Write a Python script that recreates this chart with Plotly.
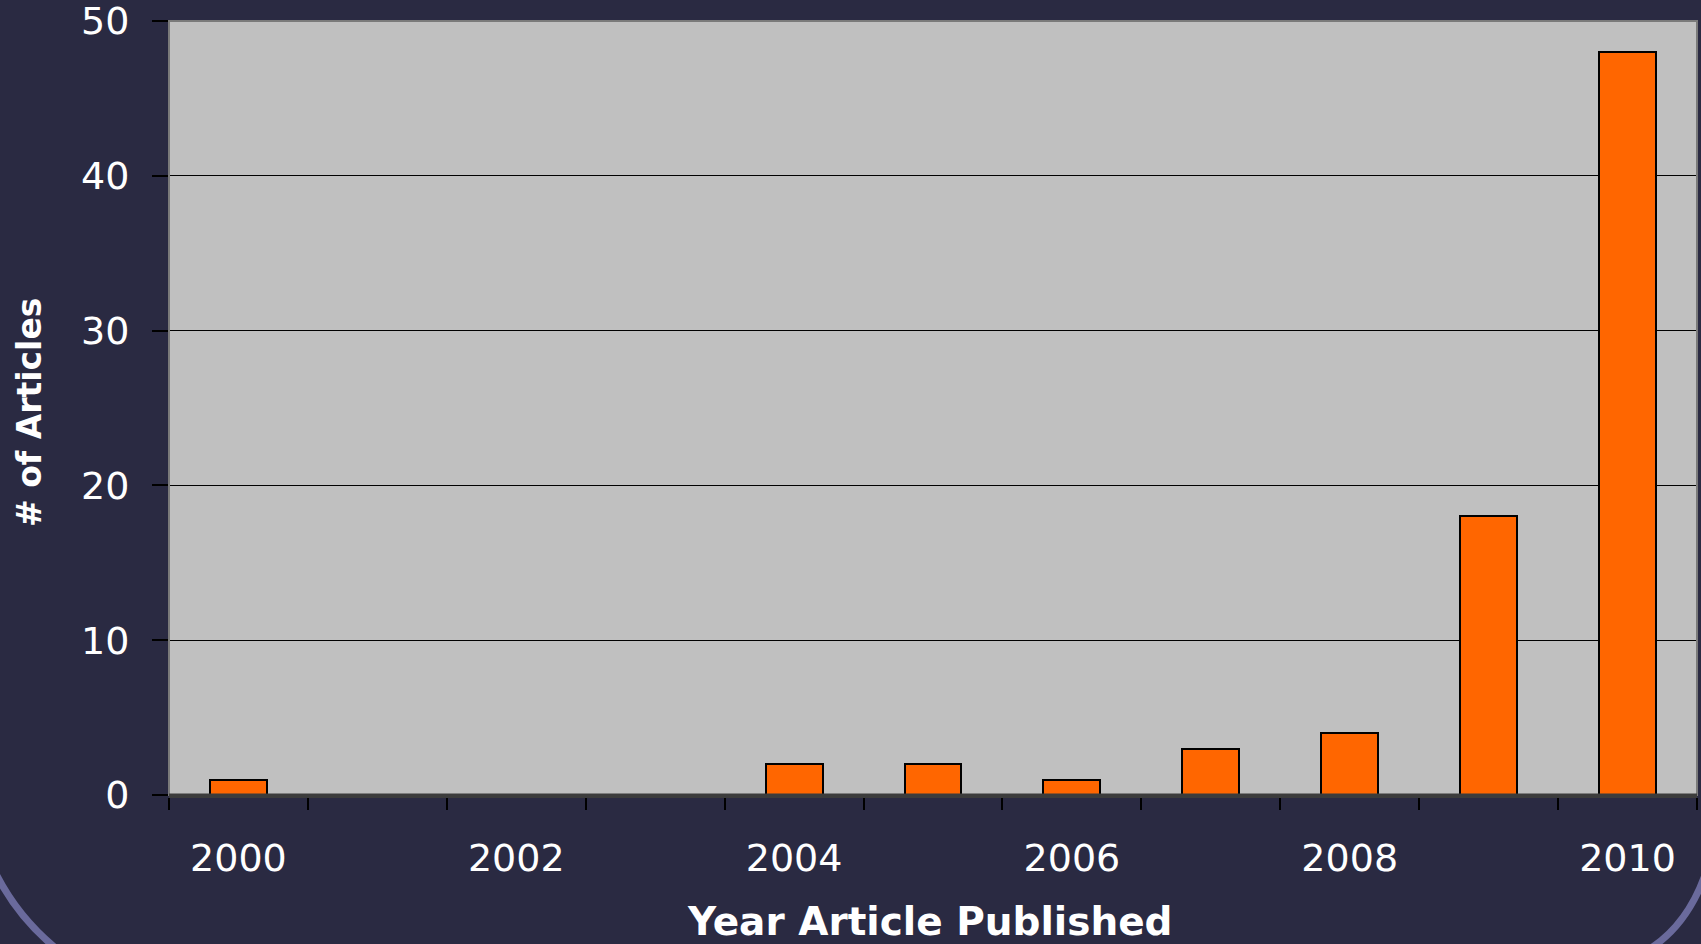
import plotly.graph_objects as go

years = [2000, 2001, 2002, 2003, 2004, 2005, 2006, 2007, 2008, 2009, 2010]
articles = [1, 0, 0, 0, 2, 2, 1, 3, 4, 18, 48]
label_years = [2000, 2002, 2004, 2006, 2008, 2010]
y_ticks = [0, 10, 20, 30, 40, 50]

W, H = 1701, 944
L, R, T, B = 169, 4, 21, 149
BG = "#2A2A42"
FONT = "DejaVu Sans, Liberation Sans, Arial, sans-serif"

pw = W - L - R
ph = H - T - B


def px(x):
    return (x - L) / pw


def py(y):
    return (H - B - y) / ph


fig = go.Figure()
fig.add_trace(go.Bar(
    x=years, y=articles, width=0.41,
    marker=dict(color="#FF6600", line=dict(color="black", width=2)),
))

arc_left = f"M {px(-5)},{py(872)} Q {px(18)},{py(918)} {px(58)},{py(950)}"
arc_right = f"M {px(1706)},{py(872)} Q {px(1688)},{py(925)} {px(1648)},{py(950)}"

fig.update_layout(
    width=W, height=H,
    margin=dict(l=L, r=R, t=T, b=B, autoexpand=False),
    paper_bgcolor=BG, plot_bgcolor="#C0C0C0",
    showlegend=False,
    bargap=0,
    font=dict(family=FONT, color="white", size=38),
    xaxis=dict(
        range=[1999.5, 2010.5], automargin=False,
        tickvals=label_years, ticktext=[str(v) for v in label_years],
        ticks="", showgrid=False, zeroline=False,
        showline=True, linecolor="#3C3C3C", linewidth=3,
        tickfont=dict(size=38, color="white", family=FONT),
        ticklabelstandoff=27,
        minor=dict(ticks="outside", tick0=1999.5, dtick=1, ticklen=12,
                   tickcolor="black", tickwidth=2, showgrid=False),
    ),
    yaxis=dict(
        range=[0, 50], tickvals=y_ticks, automargin=False,
        ticks="outside", ticklen=16, tickcolor="black", tickwidth=2,
        showgrid=True, gridcolor="black", gridwidth=1,
        zeroline=False, showline=False,
        tickfont=dict(size=38, color="white", family=FONT),
        ticklabelstandoff=15,
        ticklabeloverflow="allow",
    ),
    shapes=[
        dict(type="rect", xref="paper", yref="paper", x0=0, x1=1, y0=0, y1=1,
             line=dict(color="#7A7A7A", width=2), layer="above"),
        dict(type="line", xref="paper", yref="paper", x0=0, x1=1, y0=0, y1=0,
             line=dict(color="#3C3C3C", width=3), layer="above"),
        dict(type="path", xref="paper", yref="paper", path=arc_left,
             line=dict(color="#6A6A9C", width=7)),
        dict(type="path", xref="paper", yref="paper", path=arc_right,
             line=dict(color="#6A6A9C", width=7)),
    ],
    annotations=[
        dict(text="<b>Year Article Published</b>", xref="paper", yref="paper",
             x=px(930), y=py(921), xanchor="center", yanchor="middle",
             showarrow=False, font=dict(size=39, color="white", family=FONT)),
        dict(text="<b># of Articles</b>", xref="paper", yref="paper",
             x=px(29), y=py(413), xanchor="center", yanchor="middle",
             textangle=-90, showarrow=False,
             font=dict(size=33, color="white", family=FONT)),
    ],
)

fig.write_html(
    "out.html",
    config={"displayModeBar": False},
    post_script="document.body.style.margin='0';document.body.style.background='" + BG + "';",
)
